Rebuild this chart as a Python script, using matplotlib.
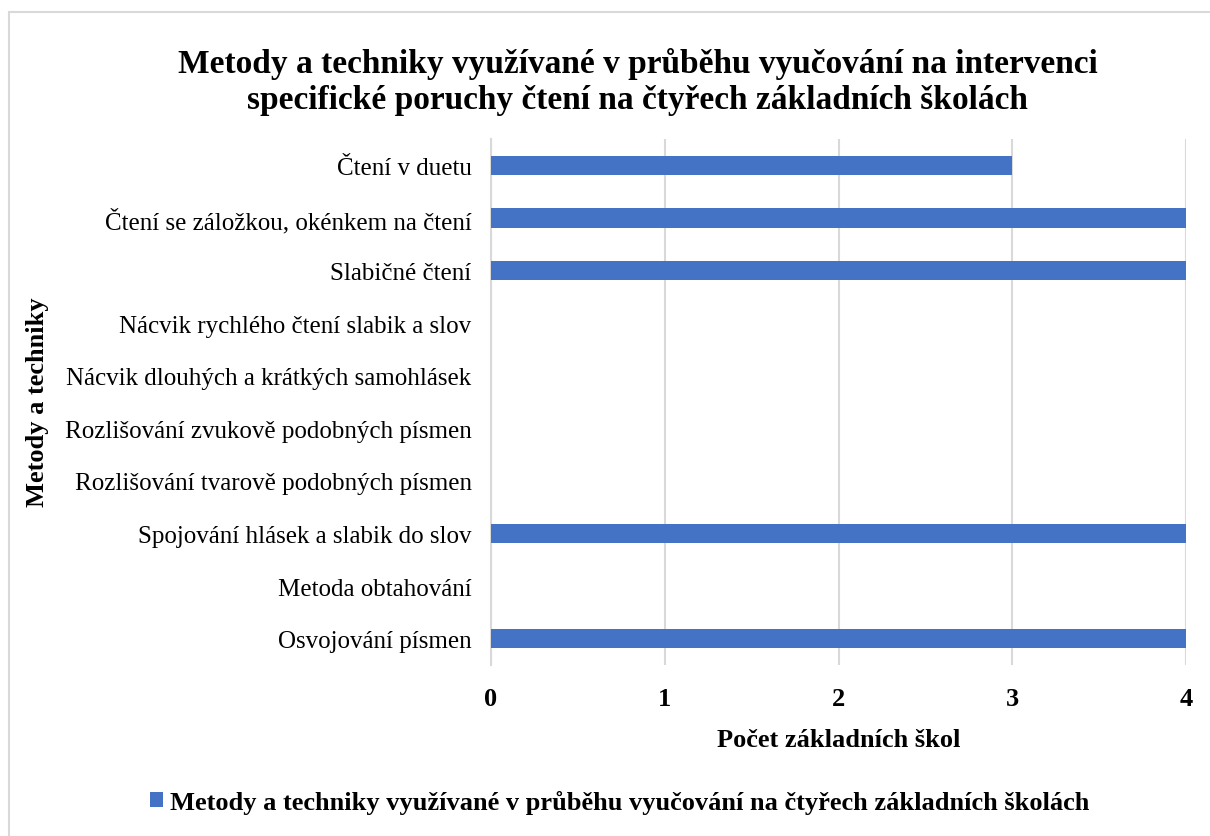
import matplotlib
matplotlib.use('Agg')
import matplotlib.pyplot as plt
from matplotlib.patches import Rectangle

plt.rcParams['font.family'] = ['Liberation Serif', 'DejaVu Serif']

# data, bottom to top as drawn
categories = ['Osvojování písmen',
              'Metoda obtahování',
              'Spojování hlásek a slabik do slov',
              'Rozlišování tvarově podobných písmen',
              'Rozlišování zvukově podobných písmen',
              'Nácvik dlouhých a krátkých samohlásek',
              'Nácvik rychlého čtení slabik a slov',
              'Slabičné čtení',
              'Čtení se záložkou, okénkem na čtení',
              'Čtení v duetu']
values = [4, 0, 4, 0, 0, 0, 0, 4, 4, 3]
xticks = [0, 1, 2, 3, 4]

title = ('Metody a techniky využívané v průběhu vyučování na intervenci\n'
         'specifické poruchy čtení na čtyřech základních školách')
series_name = 'Metody a techniky využívané v průběhu vyučování na čtyřech základních školách'

fig = plt.figure(figsize=(12.1, 8.37), dpi=100)
ax = fig.add_axes([0.4058, 0.2043, 0.5744, 0.6284])

ypos = list(range(len(categories)))
ax.barh(ypos, values, height=0.37, color='#4472C4', label=series_name, zorder=3)

ax.set_xlim(0, 4)
ax.set_ylim(-0.5, len(categories) - 0.5)
ax.set_xticks(xticks)
ax.set_xticklabels([str(t) for t in xticks], fontsize=19, fontweight='bold')
ax.set_yticks(ypos)
ax.set_yticklabels(categories, fontsize=18)
ax.tick_params(axis='both', length=0)
ax.tick_params(axis='x', pad=16)
ax.tick_params(axis='y', pad=14)

ax.grid(axis='x', color='#D9D9D9', linewidth=1.5, zorder=0)
for s in ['top', 'right', 'bottom']:
    ax.spines[s].set_visible(False)
ax.spines['left'].set_color('#D9D9D9')
ax.spines['left'].set_linewidth(1.5)

ax.set_xlabel('Počet základních škol', fontsize=19, fontweight='bold', labelpad=13)
fig.text(0.031, 0.52, 'Metody a techniky', rotation=90, ha='center', va='center',
         fontsize=19, fontweight='bold')

fig.text(0.527, 0.902, title, ha='center', va='center', fontsize=24,
         fontweight='bold', linespacing=1.22)

fig.legend(loc='center', bbox_to_anchor=(0.512, 0.041), frameon=False,
           prop={'size': 19, 'weight': 'bold'}, handlelength=0.5, handleheight=0.5,
           handletextpad=0.25)

fig.patches.append(Rectangle((9 / 1210, -0.1), 1.2, 1 - 13 / 837 + 0.1,
                             transform=fig.transFigure, fill=False,
                             edgecolor='#D9D9D9', linewidth=1.5))

fig.savefig('out.png', dpi=100)
